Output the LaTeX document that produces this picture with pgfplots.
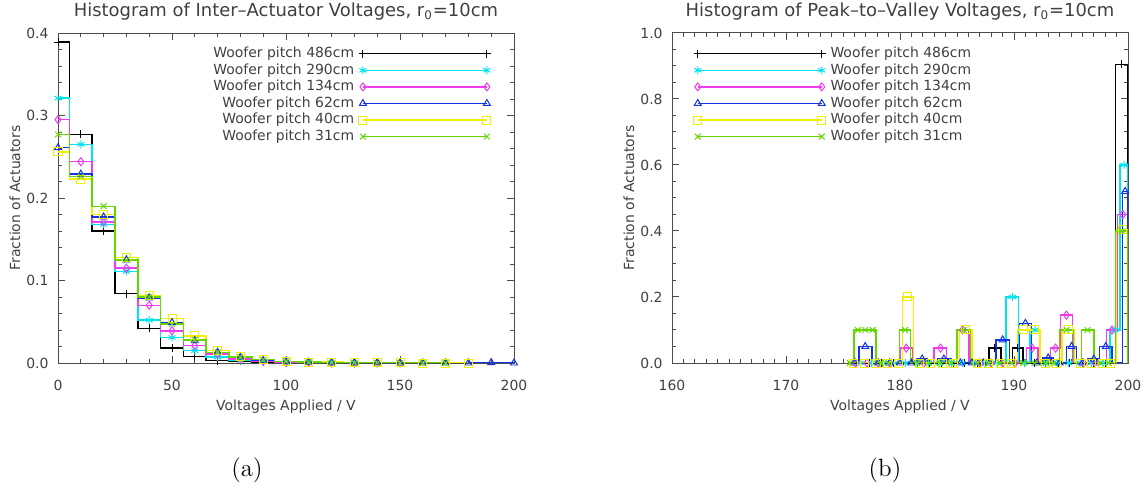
\documentclass[border=0pt]{standalone}
\usepackage{fontspec}
\usepackage{pgfplots}
\pgfplotsset{compat=1.18}
\newfontfamily\idl[Ligatures=TeX]{DejaVu Sans}

\definecolor{idlcyan}{RGB}{0,228,240}
\definecolor{idlmag}{RGB}{240,60,240}
\definecolor{idlblue}{RGB}{20,50,230}
\definecolor{idlyel}{RGB}{240,240,0}
\definecolor{idlgrn}{RGB}{100,215,0}
\colorlet{idltext}{black!75}

% legend sample: long line with a mark at each end
\newcommand\legimg[2]{%
  \path[draw, draw opacity=0] (-2.5bp,-2.5bp) rectangle (64.5bp,2.5bp);
  \draw[#1, line width=0.75bp] (0bp,0bp) -- (62bp,0bp);
  \begin{scope}[#1, line width=0.5bp, shift={(62bp,0bp)}]
    \pgfsetplotmarksize{2bp}\pgfuseplotmark{#2}%
  \end{scope}
  \begin{scope}[#1, line width=0.5bp, shift={(0.01bp,0bp)}]
    \pgfsetplotmarksize{2bp}\pgfuseplotmark{#2}%
  \end{scope}}

\pgfplotsset{
  idl/.style={
    scale only axis, width=228bp, height=165bp,
    axis line style={black!70, line width=0.5bp},
    tick style={black!70, line width=0.5bp},
    major tick length=3.5bp, minor tick length=2bp,
    tick align=inside,
    tick label style={font=\idl\fontsize{7}{8}\selectfont, text=idltext},
    xticklabel style={yshift=-5bp},
    yticklabel style={xshift=-1.2bp, /pgf/number format/.cd, fixed, fixed zerofill, precision=1},
    /pgf/number format/assume math mode=true,
    every axis title/.style={at={(axis description cs:0.5,1)}, yshift=10.5bp, anchor=center,
      font=\idl\fontsize{9}{10}\selectfont, text=idltext},
    every axis x label/.style={at={(axis description cs:0.5,0)}, yshift=-22bp, anchor=center,
      font=\idl\fontsize{7}{8}\selectfont, text=idltext},
    every axis y label/.style={at={(axis description cs:0,0.5)}, xshift=-21.5bp, rotate=90, anchor=center,
      font=\idl\fontsize{7}{8}\selectfont, text=idltext},
    every axis plot/.append style={line width=0.75bp},
    mark size=2bp,
    legend style={font=\idl\fontsize{7}{8}\selectfont, text=idltext, draw=none, fill=none,
      inner sep=0pt, row sep=1.5bp, column sep=1.5bp, nodes={inner sep=0pt}},
    xlabel={Voltages Applied / V},
    ylabel={Fraction of Actuators},
  },
  mk/.style={mark options={solid, line width=0.5bp}},
  sBk/.style={black, mark=+, mk},
  sCy/.style={idlcyan, mark=asterisk, mk},
  sMg/.style={idlmag, mark=diamond, mk},
  sBl/.style={idlblue, mark=triangle, mk},
  sYe/.style={idlyel, mark=square, mk},
  sGr/.style={idlgrn, mark=x, mk},
  lBk/.style={legend image code/.code={\legimg{black}{+}}},
  lCy/.style={legend image code/.code={\legimg{idlcyan}{asterisk}}},
  lMg/.style={legend image code/.code={\legimg{idlmag}{diamond}}},
  lBl/.style={legend image code/.code={\legimg{idlblue}{triangle}}},
  lYe/.style={legend image code/.code={\legimg{idlyel}{square}}},
  lGr/.style={legend image code/.code={\legimg{idlgrn}{x}}},
}

\begin{document}
\begin{tikzpicture}
% ---------------- (a) inter-actuator voltages
\begin{axis}[idl, at={(0,0)}, anchor=south west,
    xmin=0, xmax=200, ymin=0, ymax=0.4,
    xtick={0,50,...,200}, minor x tick num=4,
    ytick={0,0.1,...,0.4}, minor y tick num=4,
    title={Histogram of Inter--Actuator Voltages, r\textsubscript{0}=10cm},
    legend style={at={(0.954,0.959)}, anchor=north east},
    legend plot pos=right, legend cell align=right,
]
\addplot[sBk, const plot mark mid, forget plot] coordinates {
 (0,0.389)(10,0.277)(20,0.160)(30,0.084)(40,0.042)(50,0.018)(60,0.008)(70,0.003)(80,0.002)(90,0.001)(100,0.0005)(110,0)(120,0)};
\addplot[sCy, const plot mark mid, forget plot] coordinates {
 (0,0.321)(10,0.265)(20,0.168)(30,0.111)(40,0.052)(50,0.031)(60,0.015)(70,0.007)(80,0.003)(90,0.002)(100,0.001)(110,0.0005)(120,0)(130,0)};
\addplot[sMg, const plot mark mid, forget plot] coordinates {
 (0,0.295)(10,0.244)(20,0.171)(30,0.115)(40,0.070)(50,0.039)(60,0.021)(70,0.011)(80,0.005)(90,0.002)(100,0.001)(110,0.0005)(120,0)(130,0)(140,0)(150,0)};
\addplot[sBl, const plot mark mid, forget plot] coordinates {
 (0,0.261)(10,0.229)(20,0.177)(30,0.125)(40,0.079)(50,0.049)(60,0.027)(70,0.013)(80,0.007)(90,0.003)(100,0.002)(110,0.001)(120,0.0005)(130,0.0005)(140,0.0005)(150,0)(160,0)(170,0)(180,0)(190,0.0005)(200,0)};
\addplot[sYe, const plot mark mid, forget plot] coordinates {
 (0,0.256)(10,0.223)(20,0.180)(30,0.128)(40,0.082)(50,0.054)(60,0.033)(70,0.015)(80,0.008)(90,0.004)(100,0.002)(110,0.001)(120,0.001)(130,0.0005)(140,0.0005)(150,0.0005)(160,0)(170,0)(180,0)};
\addplot[sGr, const plot mark mid, forget plot] coordinates {
 (0,0.277)(10,0.226)(20,0.190)(30,0.125)(40,0.080)(50,0.047)(60,0.028)(70,0.013)(80,0.007)(90,0.004)(100,0.002)(110,0.001)(120,0.0005)(130,0)(140,0)(150,0)(160,0)(170,0)};
\addlegendimage{lBk}\addlegendentry{Woofer pitch 486cm}
\addlegendimage{lCy}\addlegendentry{Woofer pitch 290cm}
\addlegendimage{lMg}\addlegendentry{Woofer pitch 134cm}
\addlegendimage{lBl}\addlegendentry{Woofer pitch 62cm}
\addlegendimage{lYe}\addlegendentry{Woofer pitch 40cm}
\addlegendimage{lGr}\addlegendentry{Woofer pitch 31cm}
\end{axis}

% ---------------- (b) peak-to-valley voltages
\begin{axis}[idl, at={(307bp,0)}, anchor=south west,
    xmin=160, xmax=200, ymin=0, ymax=1,
    xtick={160,170,...,200}, minor x tick num=9,
    ytick={0,0.2,...,1.0}, minor y tick num=3,
    title={Histogram of Peak--to--Valley Voltages, r\textsubscript{0}=10cm},
    legend style={at={(0.043,0.959)}, anchor=north west},
    legend cell align=left,
]
% step outlines (left edge, height)
\addplot[black, const plot, mark=none, forget plot] coordinates {
 (175.8,0)(187.8,0.045)(188.85,0)(189.85,0.045)(190.8,0)(198.9,0.905)(200,0)};
\addplot[sBk, only marks, forget plot] coordinates {
 (176.3,0)(177.3,0)(178.4,0)(179.4,0)(180.5,0)(181.5,0)(182.6,0)(183.6,0)(184.7,0)(185.7,0)(186.8,0)
 (188.3,0.045)(190.3,0.045)(191.8,0)(192.8,0)(193.9,0)(194.9,0)(196.0,0)(197.0,0)(198.0,0)(199.45,0.905)};

\addplot[idlcyan, const plot, mark=none, forget plot] coordinates {
 (176.0,0)(189.3,0.2)(190.4,0)(191.4,0.1)(192.3,0)(198.4,0.1)(199.3,0.6)(200,0)};
\addplot[sCy, only marks, forget plot] coordinates {
 (176.5,0)(177.5,0)(178.5,0)(179.5,0)(180.5,0)(181.5,0)(182.5,0)(183.5,0)(184.5,0)(185.5,0)(186.5,0)(187.5,0)(188.5,0)
 (189.85,0.2)(190.9,0)(191.85,0.1)(192.8,0)(193.8,0)(194.8,0)(195.8,0)(196.8,0)(197.8,0)(198.85,0.1)(199.65,0.6)};

\addplot[idlmag, const plot, mark=none, forget plot] coordinates {
 (175.6,0)(180.0,0.045)(181.1,0)(183.0,0.045)(184.1,0)(185.0,0.1)(186.05,0)(191.1,0.045)(192.1,0)
 (193.2,0.045)(194.1,0.145)(195.15,0)(198.1,0.1)(199.1,0.45)(200,0)};
\addplot[sMg, only marks, forget plot] coordinates {
 (176.1,0)(177.1,0)(178.1,0)(179.1,0)(180.55,0.045)(182.1,0)(183.55,0.045)(185.5,0.1)(187.0,0)(188.0,0)(189.0,0)(190.1,0)
 (191.6,0.045)(193.65,0.045)(194.6,0.145)(196.1,0)(197.1,0)(198.6,0.1)(199.55,0.45)};

\addplot[idlblue, const plot, mark=none, forget plot] coordinates {
 (175.5,0)(176.4,0.05)(177.55,0)(181.5,0.012)(182.4,0)(183.3,0.012)(184.5,0)(188.4,0.07)(189.6,0)
 (190.5,0.12)(191.55,0)(192.5,0.015)(193.45,0)(194.6,0.05)(195.5,0)(196.5,0.012)(197.5,0.05)(198.6,0)(199.5,0.52)(200,0)};
\addplot[sBl, only marks, forget plot] coordinates {
 (176.0,0)(176.95,0.05)(178.1,0)(179.1,0)(180.0,0)(181.0,0)(181.95,0.012)(183.85,0.012)(185.3,0)(186.3,0)(187.3,0)
 (189.0,0.07)(191.0,0.12)(192.0,0)(193.0,0.015)(194.0,0)(195.05,0.05)(196.0,0)(197.0,0.012)(198.05,0.05)(199.75,0.52)};

\addplot[idlyel, const plot, mark=none, forget plot] coordinates {
 (175.4,0)(180.2,0.2)(181.2,0)(185.2,0.1)(186.3,0)(190.3,0.1)(192.3,0)(194.2,0.1)(195.3,0)(199.0,0.405)(200,0)};
\addplot[sYe, only marks, forget plot] coordinates {
 (175.9,0)(176.9,0)(177.9,0)(178.9,0)(179.9,0)(180.7,0.2)(181.7,0)(182.7,0)(183.7,0)(184.7,0)(185.75,0.1)
 (186.8,0)(187.8,0)(188.8,0)(189.8,0)(190.8,0.1)(191.8,0.1)(192.8,0)(193.7,0)(194.75,0.1)(195.8,0)(196.8,0)(197.8,0)(198.5,0)(199.5,0.405)};

\addplot[idlgrn, const plot, mark=none, forget plot] coordinates {
 (175.4,0)(175.96,0.1)(177.9,0)(179.94,0.1)(180.94,0)(185.0,0.1)(186.2,0)(194.0,0.1)(195.2,0)(195.9,0.1)(197.0,0)(198.9,0.4)(200,0)};
\addplot[sGr, only marks, forget plot] coordinates {
 (175.6,0)(176.3,0.1)(176.95,0.1)(177.6,0.1)(178.3,0)(179.0,0)(180.45,0.1)(181.5,0)(182.5,0)(183.5,0)(184.5,0)(185.6,0.1)
 (186.8,0)(187.8,0)(188.8,0)(189.8,0)(190.8,0)(191.8,0)(192.8,0)(193.5,0)(194.6,0.1)(196.45,0.1)(197.6,0)(198.3,0)(199.45,0.4)};

\addlegendimage{lBk}\addlegendentry{Woofer pitch 486cm}
\addlegendimage{lCy}\addlegendentry{Woofer pitch 290cm}
\addlegendimage{lMg}\addlegendentry{Woofer pitch 134cm}
\addlegendimage{lBl}\addlegendentry{Woofer pitch 62cm}
\addlegendimage{lYe}\addlegendentry{Woofer pitch 40cm}
\addlegendimage{lGr}\addlegendentry{Woofer pitch 31cm}
\end{axis}

\node[font=\fontsize{12.5}{14}\selectfont] at (94.5bp,-53.5bp) {(a)};
\node[font=\fontsize{12.5}{14}\selectfont] at (413.5bp,-53.5bp) {(b)};

\pgfresetboundingbox
\useasboundingbox (-29bp,-65bp) rectangle (544bp,181.5bp);
\end{tikzpicture}
\end{document}
